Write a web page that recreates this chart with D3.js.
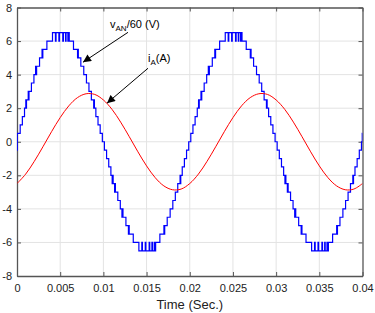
<!DOCTYPE html>
<html><head><meta charset="utf-8">
<script src="https://cdn.jsdelivr.net/npm/d3@7"></script>
<style>body{margin:0;background:#fff}svg{display:block}text{font-family:"Liberation Sans",Arial,sans-serif}</style>
</head><body><svg id="c" width="375" height="313"></svg>
<script>
// time in ms
const xTicks = [0,5,10,15,20,25,30,35,40];
const xTickLabels = ["0","0.005","0.01","0.015","0.02","0.025","0.03","0.035","0.04"];
const yTicks = [-8,-6,-4,-2,0,2,4,6,8];
const yTickLabels = ["-8","-6","-4","-2","0","2","4","6","8"];

// i_A (A), read every 1 ms
const iTime = [0,1,2,3,4,5,6,7,8,9,10,11,12,13,14,15,16,17,18,19,20,21,22,23,24,25,26,27,28,29,30,31,32,33,34,35,36,37,38,39,40];
const iValue = [-2.49,-1.93,-1.17,-0.30,0.60,1.44,2.14,2.63,2.86,2.82,2.49,1.93,1.17,0.30,-0.60,-1.44,-2.14,-2.63,-2.86,-2.82,
  -2.49,-1.93,-1.17,-0.30,0.60,1.44,2.14,2.63,2.86,2.82,2.49,1.93,1.17,0.30,-0.60,-1.44,-2.14,-2.63,-2.86,-2.82,-2.49];

// v_AN/60 (V): switching instants (ms) and level after each instant
const vTime = [0,0.03,0.37,0.62,0.87,1.02,1.06,1.10,1.30,1.34,1.39,1.67,1.96,2.15,2.19,2.27,2.61,2.90,2.94,2.99,3.46,4.11,
 4.45,4.52,4.85,4.92,5.30,5.37,5.62,5.68,5.89,6.00,6.05,6.54,7.01,7.06,7.10,7.39,7.73,8.04,8.33,8.61,8.88,8.92,8.96,9.13,9.38,9.63,9.88,
 10.12,10.37,10.62,10.87,11.02,11.06,11.13,11.30,11.34,11.39,11.67,11.96,12.15,12.19,12.27,12.61,12.90,12.94,12.99,13.46,14.11,
 14.45,14.52,14.85,14.92,15.30,15.37,15.62,15.68,15.89,16.00,16.05,16.54,17.01,17.06,17.10,17.39,17.73,18.04,18.33,18.61,18.88,18.92,18.96,19.13,19.38,19.63,19.88,
 20.12,20.37,20.62,20.87,21.02,21.06,21.10,21.30,21.34,21.39,21.67,21.96,22.15,22.19,22.27,22.61,22.90,22.94,22.99,23.46,24.11,
 24.45,24.52,24.85,24.92,25.30,25.37,25.62,25.68,25.89,26.00,26.05,26.54,27.01,27.06,27.10,27.39,27.73,28.04,28.33,28.61,28.88,28.92,28.96,29.13,29.38,29.63,29.88,
 30.12,30.37,30.62,30.87,31.02,31.06,31.13,31.30,31.34,31.39,31.67,31.96,32.15,32.19,32.27,32.61,32.90,32.94,32.99,33.46,34.11,
 34.45,34.52,34.85,34.92,35.30,35.37,35.62,35.68,35.89,36.00,36.05,36.54,37.01,37.06,37.10,37.39,37.73,38.04,38.33,38.61,38.88,38.92,38.96,39.13,39.38,39.63,39.88,
 39.97,40];
const vLevel = [-0.5,0.5,1,1.5,2,2.5,2,2.5,3,2.5,3,3.5,4,4.5,4,4.5,5,5.5,5,5.5,6,6.5,
 6,6.5,6,6.5,6,6.5,6,6.5,6,6.5,6,5.5,5,5.5,5,4.5,4,3.5,3,2.5,2,2.5,2,1.5,1,0.5,0,
 -0.5,-1,-1.5,-2,-2.5,-2,-2.5,-3,-2.5,-3,-3.5,-4,-4.5,-4,-4.5,-5,-5.5,-5,-5.5,-6,-6.5,
 -6,-6.5,-6,-6.5,-6,-6.5,-6,-6.5,-6,-6.5,-6,-5.5,-5,-5.5,-5,-4.5,-4,-3.5,-3,-2.5,-2,-2.5,-2,-1.5,-1,-0.5,0,
 0.5,1,1.5,2,2.5,2,2.5,3,2.5,3,3.5,4,4.5,4,4.5,5,5.5,5,5.5,6,6.5,
 6,6.5,6,6.5,6,6.5,6,6.5,6,6.5,6,5.5,5,5.5,5,4.5,4,3.5,3,2.5,2,2.5,2,1.5,1,0.5,0,
 -0.5,-1,-1.5,-2,-2.5,-2,-2.5,-3,-2.5,-3,-3.5,-4,-4.5,-4,-4.5,-5,-5.5,-5,-5.5,-6,-6.5,
 -6,-6.5,-6,-6.5,-6,-6.5,-6,-6.5,-6,-6.5,-6,-5.5,-5,-5.5,-5,-4.5,-4,-3.5,-3,-2.5,-2,-2.5,-2,-1.5,-1,-0.5,0,
 0.5,0.5];

const L = 17, R = 362.5, T = 7.5, B = 276;
const svg = d3.select("#c");
svg.append("rect").attr("width",375).attr("height",313).attr("fill","#fff");
const x = d3.scaleLinear().domain([0,40]).range([L,R]);
const y = d3.scaleLinear().domain([-8,8]).range([B,T]);

// grid
const g = svg.append("g");
g.selectAll(".gx").data(xTicks.slice(1,-1)).join("line")
  .attr("x1",d=>x(d)).attr("x2",d=>x(d)).attr("y1",T).attr("y2",B)
  .attr("stroke","#e3e3e3").attr("stroke-width",1);
g.selectAll(".gy").data(yTicks.slice(1,-1)).join("line")
  .attr("x1",L).attr("x2",R).attr("y1",d=>y(d)).attr("y2",d=>y(d))
  .attr("stroke","#e3e3e3").attr("stroke-width",1);

// axes (MATLAB box, inward ticks)
const axB = d3.axisBottom(x).tickValues(xTicks).tickFormat((d,i)=>xTickLabels[i]).tickSizeInner(-4).tickSizeOuter(0).tickPadding(8);
const axL = d3.axisLeft(y).tickValues(yTicks).tickFormat((d,i)=>yTickLabels[i]).tickSizeInner(-4).tickSizeOuter(0).tickPadding(5);
const axT = d3.axisTop(x).tickValues(xTicks).tickFormat("").tickSizeInner(-4).tickSizeOuter(0);
const axR = d3.axisRight(y).tickValues(yTicks).tickFormat("").tickSizeInner(-4).tickSizeOuter(0);
function style(sel){
  sel.select(".domain").attr("stroke","#555").attr("stroke-width",1.3);
  sel.selectAll(".tick line").attr("stroke","#555");
  sel.selectAll(".tick text").attr("fill","#222").attr("font-size",11).attr("font-family","Liberation Sans, Arial, sans-serif");
}
style(svg.append("g").attr("transform",`translate(0,${B})`).call(axB));
style(svg.append("g").attr("transform",`translate(${L},0)`).call(axL));
style(svg.append("g").attr("transform",`translate(0,${T})`).call(axT));
style(svg.append("g").attr("transform",`translate(${R},0)`).call(axR));

// data lines
const clip = svg.append("clipPath").attr("id","clp").append("rect").attr("x",L).attr("y",T).attr("width",R-L).attr("height",B-T);
const blue = vTime.map((t,i)=>[t,vLevel[i]]);
svg.append("path").datum(blue).attr("clip-path","url(#clp)")
  .attr("d",d3.line().x(d=>x(d[0])).y(d=>y(d[1])).curve(d3.curveStepAfter))
  .attr("fill","none").attr("stroke","#0000ff").attr("stroke-width",1.2);
const red = iTime.map((t,i)=>[t,iValue[i]]);
svg.append("path").datum(red).attr("clip-path","url(#clp)")
  .attr("d",d3.line().x(d=>x(d[0])).y(d=>y(d[1])).curve(d3.curveCatmullRom))
  .attr("fill","none").attr("stroke","#ff0000").attr("stroke-width",1);

// annotations
svg.append("defs").append("marker").attr("id","ah").attr("viewBox","0 0 10 10")
  .attr("refX",10).attr("refY",5).attr("markerWidth",10).attr("markerHeight",8)
  .attr("markerUnits","userSpaceOnUse").attr("orient","auto")
  .append("path").attr("d","M0,0 L10,5 L0,10 Z").attr("fill","#000");
const ann = [
  {tail:[12.85,6.52], head:[7.64,4.74], tx:10.77, ty:6.76, main:"v", sub:"AN", rest:"/60 (V)"},
  {tail:[15.17,4.38], head:[10.42,2.30], tx:15.17, ty:4.74, main:"i", sub:"A", rest:"(A)"}
];
ann.forEach(a=>{
  svg.append("line").attr("x1",x(a.tail[0])).attr("y1",y(a.tail[1]))
    .attr("x2",x(a.head[0])).attr("y2",y(a.head[1]))
    .attr("stroke","#000").attr("stroke-width",1).attr("marker-end","url(#ah)");
  const t = svg.append("text").attr("x",x(a.tx)).attr("y",y(a.ty)).attr("font-size",11).attr("fill","#000");
  t.append("tspan").text(a.main);
  t.append("tspan").attr("dy",3).attr("font-size",8).text(a.sub);
  t.append("tspan").attr("dy",-3).attr("font-size",11).text(a.rest);
});

svg.append("text").attr("x",(L+R)/2).attr("y",309).attr("text-anchor","middle")
  .attr("font-size",13).attr("fill","#222").text("Time (Sec.)");
</script></body></html>
